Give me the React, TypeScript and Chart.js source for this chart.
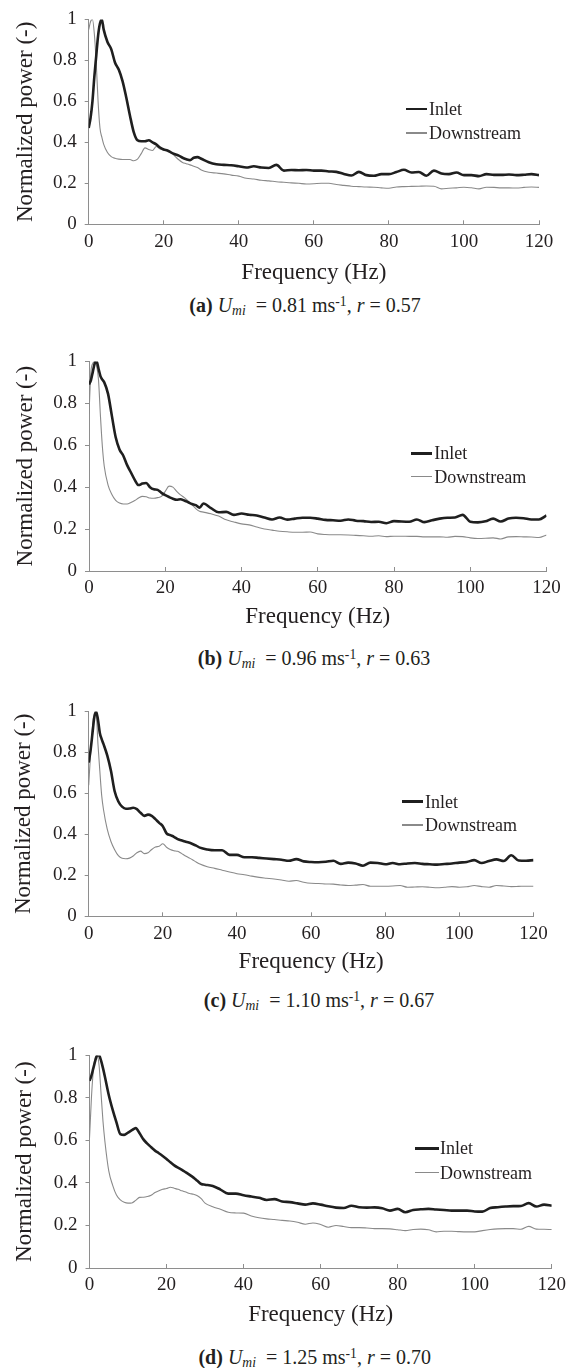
import React, { useEffect, useRef } from 'react';
import { Chart, registerables } from 'chart.js';

Chart.register(...registerables);

// Frequency grid (Hz)
const freq = [
  0, 0.5, 1, 1.5, 2, 2.5, 3, 3.5, 4,
  5, 6, 7, 8, 9, 10, 11, 12, 13, 14, 15, 16, 17, 18, 19, 20,
  21, 22, 23, 24, 25, 26, 27, 28, 29, 30,
  32, 34, 36, 38, 40, 42, 44, 46, 48, 50, 52, 54, 56, 58, 60,
  62, 64, 66, 68, 70, 72, 74, 76, 78, 80, 82, 84, 86, 88, 90,
  92, 94, 96, 98, 100, 102, 104, 106, 108, 110, 112, 114, 116, 118, 120,
];

// (a) Umi = 0.81
const inletA = [
  0.47, 0.52, 0.6, 0.72, 0.82, 0.92, 0.98, 1.0, 0.95,
  0.89, 0.855, 0.79, 0.755, 0.7, 0.62, 0.53, 0.45, 0.41, 0.405, 0.405, 0.41, 0.4, 0.39, 0.375, 0.365,
  0.36, 0.35, 0.342, 0.335, 0.325, 0.318, 0.313, 0.325, 0.328, 0.32,
  0.303, 0.293, 0.29, 0.288, 0.283, 0.277, 0.283, 0.277, 0.275, 0.29, 0.262, 0.265, 0.264, 0.265, 0.262,
  0.262, 0.258, 0.256, 0.246, 0.238, 0.256, 0.24, 0.237, 0.245, 0.245, 0.255, 0.266, 0.253, 0.255, 0.237,
  0.262, 0.248, 0.245, 0.253, 0.24, 0.24, 0.235, 0.245, 0.241, 0.241, 0.243, 0.24, 0.242, 0.245, 0.24,
];
const downA = [
  0.95, 0.99, 1.0, 0.93, 0.79, 0.6, 0.47, 0.425, 0.39,
  0.35, 0.33, 0.322, 0.318, 0.316, 0.316, 0.316, 0.31, 0.318, 0.345, 0.373, 0.365, 0.36, 0.38, 0.368, 0.362,
  0.358, 0.35, 0.332, 0.315, 0.302, 0.296, 0.29, 0.283, 0.277, 0.265,
  0.254, 0.25, 0.246, 0.24, 0.235, 0.225, 0.221, 0.215, 0.212, 0.208, 0.205, 0.202, 0.2, 0.197, 0.198,
  0.2, 0.2, 0.194, 0.19, 0.186, 0.184, 0.182, 0.181, 0.178, 0.176, 0.182, 0.184, 0.185, 0.186, 0.187,
  0.186, 0.173, 0.176, 0.178, 0.181, 0.178, 0.173, 0.181, 0.18, 0.178, 0.178, 0.177, 0.18, 0.182, 0.18,
];

// (b) Umi = 0.96
const inletB = [
  0.89, 0.91, 0.95, 0.99, 1.0, 0.965, 0.93, 0.913, 0.9,
  0.845, 0.74, 0.638, 0.58, 0.55, 0.505, 0.47, 0.435, 0.41, 0.417, 0.42, 0.4, 0.39, 0.387, 0.373, 0.362,
  0.353, 0.345, 0.34, 0.342, 0.336, 0.328, 0.32, 0.314, 0.302, 0.322,
  0.3, 0.28, 0.282, 0.268, 0.274, 0.268, 0.265, 0.255, 0.246, 0.255, 0.245, 0.25, 0.254, 0.254, 0.25,
  0.244, 0.242, 0.24, 0.246, 0.24, 0.238, 0.234, 0.235, 0.228, 0.238, 0.236, 0.235, 0.246, 0.233, 0.242,
  0.25, 0.254, 0.255, 0.268, 0.235, 0.232, 0.237, 0.25, 0.236, 0.25, 0.254, 0.252, 0.246, 0.246, 0.265,
];
const downB = [
  0.75, 0.95, 0.99, 1.0, 0.98, 0.91, 0.74, 0.595, 0.5,
  0.41, 0.365, 0.337, 0.324, 0.32, 0.32, 0.327, 0.336, 0.348, 0.356, 0.354, 0.348, 0.347, 0.35, 0.356, 0.38,
  0.405, 0.4, 0.38, 0.363, 0.35, 0.333, 0.317, 0.298, 0.285, 0.281,
  0.273, 0.262, 0.244, 0.234, 0.225, 0.22, 0.21, 0.2, 0.195, 0.19, 0.187, 0.185, 0.185, 0.186, 0.177,
  0.174, 0.173, 0.173, 0.172, 0.17, 0.168, 0.166, 0.168, 0.164, 0.166, 0.166, 0.165, 0.165, 0.163, 0.163,
  0.163, 0.161, 0.165, 0.164, 0.158, 0.155, 0.156, 0.158, 0.153, 0.163, 0.164, 0.163, 0.162, 0.16, 0.172,
];

// (c) Umi = 1.10
const inletC = [
  0.75, 0.81, 0.89, 0.97, 1.0, 0.96, 0.895, 0.865, 0.84,
  0.785, 0.71, 0.61, 0.56, 0.535, 0.525, 0.526, 0.53, 0.523, 0.505, 0.49, 0.496, 0.49, 0.474, 0.456, 0.44,
  0.405, 0.396, 0.388, 0.377, 0.371, 0.365, 0.36, 0.353, 0.345, 0.335,
  0.326, 0.322, 0.322, 0.3, 0.3, 0.288, 0.288, 0.285, 0.282, 0.279, 0.276, 0.271, 0.279, 0.268, 0.265,
  0.264, 0.266, 0.271, 0.256, 0.262, 0.258, 0.247, 0.262, 0.26, 0.254, 0.26, 0.254, 0.258, 0.26, 0.256,
  0.254, 0.252, 0.255, 0.258, 0.262, 0.265, 0.274, 0.26, 0.27, 0.278, 0.27, 0.298, 0.272, 0.271, 0.274,
];
const downC = [
  0.64, 0.79, 0.92, 0.99, 0.99, 0.84, 0.71, 0.59, 0.52,
  0.425, 0.365, 0.325, 0.296, 0.283, 0.281, 0.284, 0.294, 0.31, 0.318, 0.306, 0.31, 0.326, 0.338, 0.342, 0.354,
  0.337, 0.326, 0.32, 0.317, 0.307, 0.296, 0.286, 0.276, 0.265, 0.255,
  0.242, 0.234, 0.225, 0.216, 0.208, 0.203, 0.196, 0.19, 0.186, 0.182, 0.177, 0.171, 0.175, 0.166, 0.161,
  0.16, 0.158, 0.157, 0.153, 0.15, 0.152, 0.155, 0.147, 0.147, 0.147, 0.148, 0.15, 0.142, 0.143, 0.144,
  0.142, 0.139, 0.142, 0.145, 0.142, 0.144, 0.15, 0.145, 0.142, 0.15, 0.148, 0.145, 0.146, 0.147, 0.147,
];

// (d) Umi = 1.25
const inletD = [
  0.88, 0.905, 0.94, 0.975, 1.0, 1.0, 0.975, 0.94, 0.9,
  0.814, 0.745, 0.685, 0.63, 0.626, 0.637, 0.648, 0.658, 0.634, 0.605, 0.585, 0.568, 0.552, 0.54, 0.527, 0.513,
  0.497, 0.483, 0.472, 0.462, 0.45, 0.438, 0.425, 0.41, 0.395, 0.392,
  0.386, 0.369, 0.35, 0.35, 0.342, 0.336, 0.33, 0.32, 0.324, 0.313, 0.31, 0.304, 0.298, 0.304, 0.298,
  0.29, 0.284, 0.282, 0.293, 0.286, 0.284, 0.285, 0.281, 0.27, 0.278, 0.262, 0.273, 0.276, 0.278, 0.275,
  0.273, 0.27, 0.27, 0.27, 0.266, 0.265, 0.282, 0.286, 0.289, 0.291, 0.292, 0.305, 0.289, 0.298, 0.293,
];
const downD = [
  0.61, 0.8, 0.93, 0.99, 1.0, 0.95, 0.82, 0.69, 0.595,
  0.457, 0.39, 0.343, 0.32, 0.309, 0.305, 0.306, 0.318, 0.332, 0.333, 0.336, 0.342, 0.355, 0.363, 0.37, 0.374,
  0.38, 0.375, 0.37, 0.363, 0.357, 0.35, 0.347, 0.34, 0.326, 0.305,
  0.288, 0.276, 0.262, 0.259, 0.258, 0.245, 0.236, 0.231, 0.228, 0.224, 0.221, 0.215, 0.206, 0.212, 0.205,
  0.192, 0.2, 0.195, 0.19, 0.19, 0.188, 0.185, 0.185, 0.184, 0.18, 0.176, 0.181, 0.183, 0.18, 0.17,
  0.173, 0.173, 0.171, 0.17, 0.17, 0.176, 0.181, 0.184, 0.185, 0.185, 0.182, 0.196, 0.183, 0.182, 0.181,
];

const panelLetters = ['a', 'b', 'c', 'd'];
const panelUmi = ['0.81', '0.96', '1.10', '1.25'];
const panelR = ['0.57', '0.63', '0.67', '0.70'];
const seriesNames = ['Inlet', 'Downstream'];
const xTitle = 'Frequency (Hz)';
const yTitle = 'Normalized power (-)';

const FONT = "'Liberation Serif', 'Times New Roman', serif";
const TEXT = '#231f20';
const AXIS = '#8e8e8e';
const INLET_COLOR = '#1f1f1f';
const DOWN_COLOR = '#8a8a8a';
const TITLE_SIZE = 23;
const TICK_SIZE = 19;

type Layout = {
  L: number; R: number; T: number; B: number;
  xTitleY: number; yTitleX: number;
  capX: number; capY: number;
  legX1: number; legX2: number; legText: number; legY1: number; legY2: number;
};

const layouts: Layout[] = [
  { L: 88.7, R: 539, T: 16, B: 224.3, xTitleY: 273, yTitleX: 25.6, capX: 305, capY: 305,
    legX1: 406, legX2: 427, legText: 429, legY1: 109, legY2: 133 },
  { L: 89, R: 546.5, T: 358.5, B: 571, xTitleY: 617, yTitleX: 25.5, capX: 314, capY: 658,
    legX1: 410.6, legX2: 432.5, legText: 434.3, legY1: 453.3, legY2: 476.7 },
  { L: 88.7, R: 533.5, T: 708.8, B: 916.3, xTitleY: 961.7, yTitleX: 24, capX: 319, capY: 1000,
    legX1: 401.6, legX2: 423.5, legText: 425, legY1: 801.7, legY2: 825 },
  { L: 89.5, R: 552.5, T: 1052.5, B: 1268, xTitleY: 1315, yTitleX: 24.5, capX: 314.7, capY: 1356.7,
    legX1: 415, legX2: 439, legText: 440, legY1: 1148.3, legY2: 1172.7 },
];

const seriesData = [
  [inletA, downA],
  [inletB, downB],
  [inletC, downC],
  [inletD, downD],
];

function Panel({ idx }: { idx: number }) {
  const ref = useRef<HTMLCanvasElement>(null);
  const lay = layouts[idx];
  const top = Math.floor(lay.T - 16);
  const H = Math.round(lay.xTitleY + 16 - top);
  const titleLH = TITLE_SIZE * 1.2;

  useEffect(() => {
    const [inlet, down] = seriesData[idx];
    const chart = new Chart(ref.current as HTMLCanvasElement, {
      type: 'line',
      data: {
        datasets: [
          {
            label: seriesNames[0],
            data: freq.map((f, i) => ({ x: f, y: inlet[i] })),
            borderColor: INLET_COLOR,
            borderWidth: 2.6,
            pointRadius: 0,
            cubicInterpolationMode: 'monotone',
          },
          {
            label: seriesNames[1],
            data: freq.map((f, i) => ({ x: f, y: down[i] })),
            borderColor: DOWN_COLOR,
            borderWidth: 1.1,
            pointRadius: 0,
            cubicInterpolationMode: 'monotone',
          },
        ],
      },
      options: {
        animation: false,
        responsive: false,
        devicePixelRatio: 1,
        layout: { padding: { top: lay.T - top, left: 0, right: 576 - lay.R, bottom: 0 } },
        plugins: { legend: { display: false }, tooltip: { enabled: false } },
        scales: {
          x: {
            type: 'linear',
            min: 0,
            max: 120,
            ticks: {
              stepSize: 20,
              color: TEXT,
              font: { family: FONT, size: TICK_SIZE },
              padding: 10,
              maxRotation: 0,
              autoSkip: false,
            },
            grid: { drawOnChartArea: false, drawTicks: true, tickLength: -4, color: AXIS },
            border: { color: AXIS, width: 1 },
            title: {
              display: true,
              text: xTitle,
              color: TEXT,
              font: { family: FONT, size: TITLE_SIZE },
              padding: { top: 0, bottom: H - (lay.xTitleY - top) - titleLH / 2 },
            },
            afterFit: (s: any) => { s.height = H - (lay.B - top); },
          },
          y: {
            min: 0,
            max: 1,
            ticks: {
              stepSize: 0.2,
              color: TEXT,
              font: { family: FONT, size: TICK_SIZE },
              padding: 8,
              callback: (v: any) => String(Math.round(Number(v) * 10) / 10),
            },
            grid: { drawOnChartArea: false, drawTicks: true, tickLength: 4, color: AXIS },
            border: { color: AXIS, width: 1 },
            title: {
              display: true,
              text: yTitle,
              color: TEXT,
              font: { family: FONT, size: TITLE_SIZE },
              padding: { top: lay.yTitleX - titleLH / 2, bottom: 0 },
            },
            afterFit: (s: any) => { s.width = lay.L; },
          },
        },
      } as any,
    });
    return () => chart.destroy();
  }, [idx]);

  const legendRow = (y: number, name: string, color: string, thick: number) => (
    <div
      style={{
        position: 'absolute',
        left: lay.legX1,
        top: y,
        transform: 'translateY(-50%)',
        display: 'flex',
        alignItems: 'center',
        fontFamily: FONT,
        fontSize: 18,
        lineHeight: 1,
        color: TEXT,
        whiteSpace: 'nowrap',
      }}
    >
      <div style={{ width: lay.legX2 - lay.legX1, height: thick, background: color }} />
      <span style={{ marginLeft: lay.legText - lay.legX2 }}>{name}</span>
    </div>
  );

  return (
    <>
      <canvas
        ref={ref}
        width={576}
        height={H}
        style={{ position: 'absolute', left: 0, top, width: 576, height: H, display: 'block' }}
      />
      {legendRow(lay.legY1, seriesNames[0], INLET_COLOR, 2.6)}
      {legendRow(lay.legY2, seriesNames[1], DOWN_COLOR, 1.1)}
      <div
        style={{
          position: 'absolute',
          left: lay.capX,
          top: lay.capY,
          transform: 'translate(-50%, -50%)',
          fontFamily: FONT,
          fontSize: 20,
          lineHeight: 1,
          color: TEXT,
          whiteSpace: 'nowrap',
        }}
      >
        <b>({panelLetters[idx]})</b>{' '}
        <i>U</i>
        <sub style={{ fontSize: '0.68em', lineHeight: 0, verticalAlign: '-0.25em' }}><i>mi</i></sub>
        {'\u00a0 = ' + panelUmi[idx] + ' ms'}
        <sup style={{ fontSize: '0.68em', lineHeight: 0, verticalAlign: '0.45em' }}>-1</sup>
        {', '}
        <i>r</i>
        {' = ' + panelR[idx]}
      </div>
    </>
  );
}

export default function App() {
  return (
    <div
      style={{
        position: 'absolute',
        left: 0,
        top: 0,
        width: 576,
        height: 1368,
        background: '#ffffff',
        overflow: 'hidden',
      }}
    >
      {[0, 1, 2, 3].map((i) => (
        <Panel key={i} idx={i} />
      ))}
    </div>
  );
}
